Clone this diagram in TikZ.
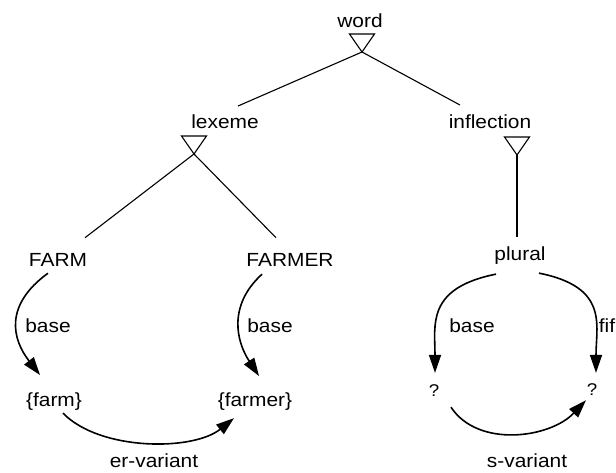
\documentclass[tikz,border=0pt]{standalone}
\usepackage{fontspec}
\setmainfont[FakeStretch=1.1]{Liberation Sans}
\usetikzlibrary{arrows.meta}
\tikzset{
  lab/.style={inner sep=0pt, anchor=base, font=\fontsize{19}{22}\selectfont},
  qlab/.style={lab, font=\fontsize{17}{20}\selectfont},
  arr/.style={line width=1.6pt, -{Triangle[length=18pt,width=12pt]}},
  tree/.style={line width=1.1pt}
}
\newcommand{\isa}[1]{\draw[tree] (#1) -- ++(-12.5,18) -- ++(25,0) -- cycle;}
\begin{document}
\begin{tikzpicture}[x=1pt,y=1pt]
            \useasboundingbox (0,0) rectangle (616,473);
            \node[lab] (word) at (360,445) {word};
            \node[lab] (lexeme) at (225,344) {lexeme};
            \node[lab] (inflection) at (490,344) {inflection};
            \node[lab] (FARM) at (58,206) {FARM};
            \node[lab] (FARMER) at (290,206) {FARMER};
            \node[lab] (plural) at (520,212) {plural};
            \node[lab] (base1) at (48,140) {base};
            \node[lab] (base2) at (270,140) {base};
            \node[lab] (base3) at (472,140) {base};
            \node[lab] (fif) at (607,140) {fif};
            \node[lab] (farm) at (54,66) {\{farm\}};
            \node[lab] (farmer) at (255,66) {\{farmer\}};
            \node[qlab] (q1) at (434,76) {?};
            \node[qlab] (q2) at (592,77) {?};
            \node[lab] (ervar) at (154,5) {er-variant};
            \node[lab] (svar) at (527,5) {s-variant};
            \coordinate (wordtip) at (362,421);
            \coordinate (lextip) at (194,319);
            \coordinate (infltip) at (517,318);
            \isa{wordtip}
            \isa{lextip}
            \isa{infltip}
            \draw[tree] (wordtip) -- ([shift={(13,9)}]lexeme.north);
            \draw[tree] (wordtip) -- ([shift={(-30,10)}]inflection.north);
            \draw[tree] (lextip) -- ([shift={(27,16)}]FARM.north);
            \draw[tree] (lextip) -- ([shift={(-14,16)}]FARMER.north);
            \draw[tree] (infltip) -- ([shift={(-3,10)}]plural.north);
            \draw[arr] ([shift={(-10,-6)}]FARM.south) .. controls +(-44,-32) and +(-28,36) .. ([shift={(-14,18)}]farm.north);
            \draw[arr] ([shift={(-28,-7)}]FARMER.south) .. controls +(-34,-31) and +(-23,35) .. ([shift={(4,17)}]farmer.north);
            \draw[arr] ([shift={(9,-2)}]farm.south) .. controls +(37,-38) and +(-41,-33) .. ([shift={(-21,-7)}]farmer.south);
            \draw[arr] ([shift={(-24,-9)}]plural.south) .. controls +(-70,-14) and +(0,48) .. ([shift={(1,12)}]q1.north);
            \draw[arr] ([shift={(19,-8)}]plural.south) .. controls +(70,-14) and +(0,48) .. ([shift={(4,11)}]q2.north);
            \draw[arr] ([shift={(17,-10)}]q1.south) .. controls +(27,-41) and +(-36,-38) .. ([shift={(-6,-4)}]q2.south);
\end{tikzpicture}
\end{document}
